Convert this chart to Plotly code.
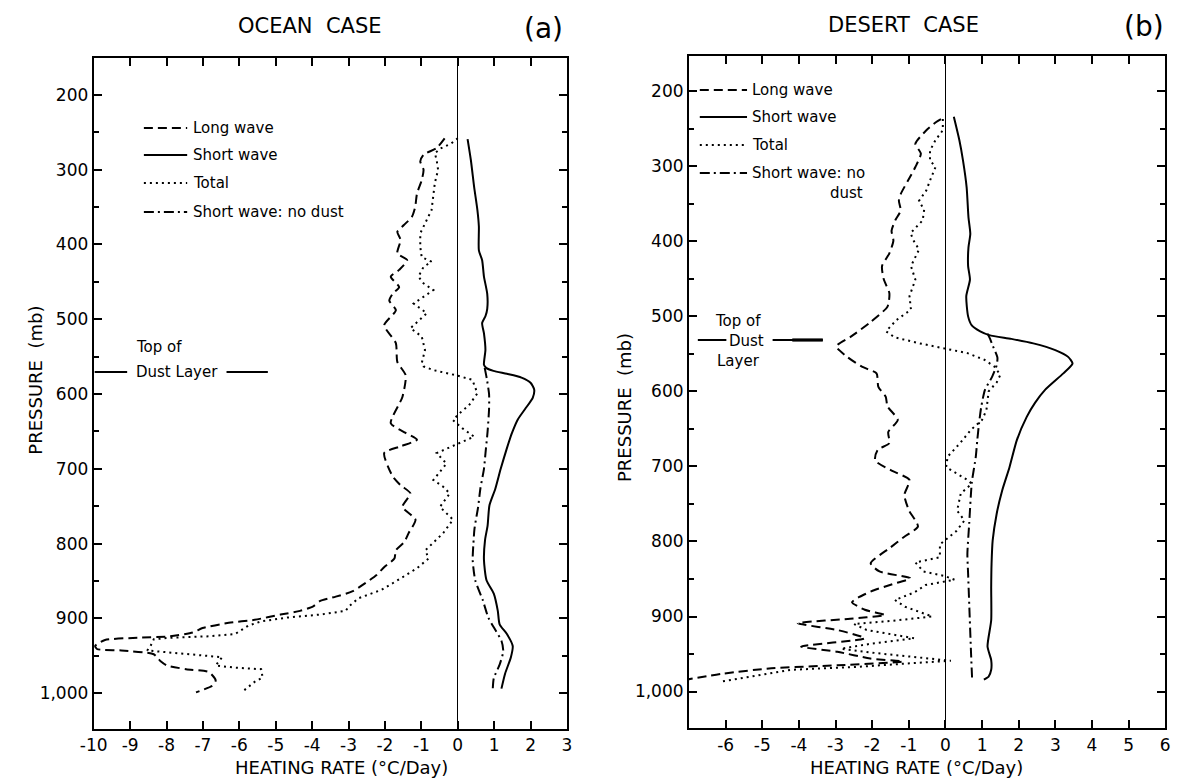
import plotly.graph_objects as go

# ---------------- DATA ----------------
# Panel (a) OCEAN CASE  (pressure in mb, heating rate in degC/day)
ocean_lw_p = [258, 271, 280, 289, 300, 314, 332, 350, 363, 374, 383, 394, 412, 421, 434, 443, 457, 466, 475, 488,
              508, 532, 557, 575, 604, 639, 652, 661, 670, 679, 710, 722, 733, 751, 768, 786, 798, 809, 820, 831,
              842, 853, 864, 871, 877, 884, 890, 895, 902, 906, 913, 919, 924, 926, 929, 937, 941, 943, 948, 957,
              963, 968, 972, 983, 990, 999]
ocean_lw_x = [-0.36, -0.58, -0.94, -1.03, -0.94, -0.99, -1.12, -1.17, -1.26, -1.48, -1.66, -1.57, -1.66, -1.39, -1.61,
              -1.84, -1.61, -1.79, -1.88, -1.70, -2.02, -1.70, -1.66, -1.43, -1.52, -1.84, -1.43, -1.12, -1.57, -2.02,
              -1.79, -1.57, -1.30, -1.52, -1.16, -1.35, -1.47, -1.70, -1.74, -2.01, -2.23, -2.54, -2.90, -3.35, -3.79,
              -3.97, -4.33, -4.87, -5.58, -6.29, -7.01, -7.28, -7.90, -8.79, -9.69, -9.96, -9.91, -9.24, -8.35, -8.17,
              -7.99, -7.46, -6.83, -6.65, -6.74, -7.19]

ocean_tot_p = [258, 265, 271, 278, 287, 300, 318, 336, 354, 372, 385, 403, 417, 423, 430, 443, 452, 461, 470, 479,
               492, 508, 512, 523, 541, 559, 563, 568, 575, 581, 599, 615, 626, 635, 646, 657, 666, 673, 679, 693,
               715, 724, 733, 751, 768, 786, 798, 809, 820, 833, 849, 862, 873, 884, 890, 895, 899, 904, 910, 921,
               924, 926, 928, 937, 943, 946, 950, 952, 963, 966, 968, 979, 985, 999]
ocean_tot_x = [0.0, -0.18, -0.45, -0.63, -0.58, -0.54, -0.63, -0.67, -0.72, -0.90, -1.03, -1.03, -0.99, -0.72, -0.94,
               -1.08, -0.94, -0.67, -0.94, -1.21, -0.85, -1.21, -1.30, -0.99, -0.90, -0.99, -0.94, -0.67, -0.04, 0.40,
               0.54, 0.31, 0.04, -0.13, 0.13, 0.45, 0.04, -0.31, -0.58, -0.31, -0.67, -0.40, -0.22, -0.49, -0.13,
               -0.40, -0.67, -0.89, -0.80, -1.12, -1.65, -2.10, -2.72, -2.99, -3.08, -3.79, -4.69, -5.40, -5.76, -6.12,
               -6.83, -7.90, -8.35, -8.44, -8.53, -7.90, -7.01, -6.47, -6.65, -6.12, -5.40, -5.36, -5.58, -5.94]

ocean_sw_p = [259, 287, 323, 354, 376, 408, 421, 443, 466, 486, 496, 505, 519, 541, 561, 565, 569, 573, 578, 585,
              594, 605, 620, 634, 652, 674, 700, 727, 749, 776, 795, 822, 849, 867, 890, 908, 921, 937, 952, 974, 994]
ocean_sw_x = [0.27, 0.36, 0.45, 0.54, 0.58, 0.58, 0.67, 0.72, 0.81, 0.81, 0.76, 0.67, 0.72, 0.76, 0.72, 0.78, 0.98,
              1.35, 1.75, 2.00, 2.10, 2.06, 1.85, 1.65, 1.49, 1.34, 1.18, 1.03, 0.87, 0.82, 0.75, 0.72, 0.79, 0.99,
              1.10, 1.15, 1.35, 1.51, 1.46, 1.30, 1.20]

ocean_swnd_p = [565, 580, 600, 620, 650, 680, 700, 727, 751, 780, 800, 822, 849, 876, 899, 917, 930, 944, 962, 980, 996]
ocean_swnd_x = [0.74, 0.80, 0.86, 0.86, 0.82, 0.76, 0.72, 0.62, 0.56, 0.46, 0.43, 0.41, 0.48, 0.69, 0.84, 1.05, 1.20,
                1.25, 1.15, 0.99, 0.96]

# Panel (b) DESERT CASE
desert_lw_p = [237, 241, 252, 270, 283, 301, 319, 337, 346, 359, 372, 386, 399, 416, 433, 451, 469, 487, 509, 527,
               540, 554, 567, 576, 594, 607, 620, 638, 654, 669, 678, 692, 705, 718, 738, 758, 780, 794, 808, 829,
               840, 849, 857, 865, 874, 881, 891, 898, 903, 909, 918, 929, 940, 947, 956, 960, 965, 969, 976, 984]
desert_lw_x = [-0.12, -0.25, -0.52, -0.82, -0.67, -0.82, -1.02, -1.22, -1.27, -1.22, -1.37, -1.47, -1.42, -1.53, -1.73,
               -1.68, -1.53, -1.58, -2.08, -2.58, -2.98, -2.68, -2.28, -1.88, -1.83, -1.63, -1.58, -1.30, -1.56, -1.53,
               -1.85, -1.92, -1.49, -0.98, -1.12, -1.00, -0.75, -1.13, -1.50, -2.04, -1.80, -0.96, -1.45, -1.95, -2.35,
               -2.55, -2.20, -1.65, -2.60, -4.03, -2.95, -2.20, -3.94, -2.95, -2.05, -1.16, -2.95, -4.75, -6.05, -7.05]

desert_tot_p = [237, 252, 265, 279, 292, 301, 319, 332, 346, 358, 372, 389, 398, 411, 433, 451, 473, 491, 505, 520,
                528, 536, 543, 549, 558, 567, 578, 588, 600, 625, 638, 651, 669, 687, 701, 718, 723, 736, 759, 772,
                786, 804, 821, 828, 840, 846, 851, 858, 868, 878, 887, 900, 906, 910, 918, 925, 929, 936, 943, 949,
                954, 959, 962, 967, 971, 980, 987]
desert_tot_x = [-0.07, -0.07, -0.27, -0.42, -0.42, -0.27, -0.42, -0.52, -0.72, -0.58, -0.62, -0.95, -0.88, -0.72, -0.94,
                -0.82, -0.98, -0.94, -1.34, -1.62, -1.38, -0.70, 0.00, 0.60, 1.07, 1.34, 1.50, 1.40, 1.18, 1.12, 1.00,
                0.70, 0.40, 0.06, 0.02, 0.60, 0.72, 0.42, 0.32, 0.52, 0.30, -0.15, -0.15, -0.82, -0.60, -0.02, 0.25,
                -0.54, -0.85, -1.38, -1.10, -0.36, -1.50, -2.50, -2.15, -1.35, -0.85, -2.00, -2.85, -1.85, -0.85, 0.15,
                -0.85, -2.35, -4.20, -5.30, -6.15]

desert_sw_p = [234, 265, 292, 328, 368, 390, 408, 433, 451, 473, 500, 512, 520, 525, 530, 536, 545, 554, 563, 576,
               598, 615, 634, 665, 701, 732, 763, 799, 830, 861, 905, 940, 958, 971, 980, 984]
desert_sw_x = [0.23, 0.38, 0.48, 0.58, 0.63, 0.68, 0.63, 0.62, 0.67, 0.57, 0.62, 0.72, 0.95, 1.20, 1.80, 2.40, 3.00,
               3.35, 3.47, 3.22, 2.72, 2.45, 2.22, 1.95, 1.75, 1.55, 1.40, 1.29, 1.26, 1.25, 1.25, 1.15, 1.25, 1.25,
               1.18, 1.05]

desert_swnd_p = [523, 530, 540, 555, 565, 580, 598, 620, 642, 665, 687, 722, 776, 817, 843, 883, 949, 984]
desert_swnd_x = [1.15, 1.22, 1.30, 1.42, 1.40, 1.28, 1.08, 0.98, 0.92, 0.87, 0.83, 0.72, 0.65, 0.60, 0.62, 0.65, 0.70,
                 0.73]

x_ticks_a = list(range(-10, 4))
x_ticks_b = list(range(-6, 7))
p_ticks = [200, 300, 400, 500, 600, 700, 800, 900, 1000]
p_ticktext = ["200", "300", "400", "500", "600", "700", "800", "900", "1,000"]
p_minor = [150, 250, 350, 450, 550, 650, 750, 850, 950, 1050]

legend_names = ["Long wave", "Short wave", "Total", "Short wave: no dust"]

# ---------------- STYLE ----------------
W, H = 1182, 779
FONT = "DejaVu Sans"
DASH = "9px,5px"
DOT = "2px,4px"
DASHDOT = "10px,4px,2px,4px"
LW = 2.0


def pxx(x):
    return x / W


def pxy(y):
    return 1 - y / H


fig = go.Figure()


def add_series(xv, pv, dash, xa, ya, name, shape="linear"):
    fig.add_trace(go.Scatter(x=xv, y=pv, mode="lines", name=name, showlegend=False,
                             line=dict(color="black", width=LW, dash=dash, shape=shape, smoothing=0.6),
                             xaxis=xa, yaxis=ya, hoverinfo="skip"))


add_series(ocean_swnd_x, ocean_swnd_p, DASHDOT, "x", "y", legend_names[3], "spline")
add_series(ocean_lw_x, ocean_lw_p, DASH, "x", "y", legend_names[0], "spline")
add_series(ocean_tot_x, ocean_tot_p, DOT, "x", "y", legend_names[2])
add_series(ocean_sw_x, ocean_sw_p, "solid", "x", "y", legend_names[1], "spline")

add_series(desert_swnd_x, desert_swnd_p, DASHDOT, "x2", "y2", legend_names[3], "spline")
add_series(desert_lw_x, desert_lw_p, DASH, "x2", "y2", legend_names[0], "spline")
add_series(desert_tot_x, desert_tot_p, DOT, "x2", "y2", legend_names[2])
add_series(desert_sw_x, desert_sw_p, "solid", "x2", "y2", legend_names[1], "spline")

axis_common = dict(showline=True, linecolor="black", linewidth=2, mirror="ticks", ticks="inside",
                   ticklen=8, tickwidth=1.5, tickcolor="black", showgrid=False,
                   tickfont=dict(family=FONT, size=17, color="black"), fixedrange=True)

fig.update_layout(
    width=W, height=H,
    margin=dict(l=0, r=0, t=0, b=0),
    paper_bgcolor="white", plot_bgcolor="white",
    font=dict(family=FONT, color="black"),
    xaxis=dict(axis_common, range=[-10, 3], domain=[pxx(81), pxx(562)], anchor="y",
               tickmode="array", tickvals=x_ticks_a, ticktext=[str(v) for v in x_ticks_a],
               zeroline=True, zerolinecolor="black", zerolinewidth=1.3),
    yaxis=dict(axis_common, range=[1048, 151], domain=[pxy(729), pxy(58.3)], anchor="x",
               tickmode="array", tickvals=p_ticks, ticktext=p_ticktext, zeroline=False,
               minor=dict(tickmode="array", tickvals=p_minor, ticks="inside", ticklen=5,
                          tickwidth=1.5, tickcolor="black", showgrid=False)),
    xaxis2=dict(axis_common, range=[-7, 6], domain=[pxx(686), pxx(1170)], anchor="y2",
                tickmode="array", tickvals=x_ticks_b, ticktext=[str(v) for v in x_ticks_b],
                zeroline=True, zerolinecolor="black", zerolinewidth=1.3),
    yaxis2=dict(axis_common, range=[1049, 153], domain=[pxy(728.3), pxy(56)], anchor="x2",
                tickmode="array", tickvals=p_ticks, ticktext=p_ticktext, zeroline=False,
                minor=dict(tickmode="array", tickvals=p_minor, ticks="inside", ticklen=5,
                           tickwidth=1.5, tickcolor="black", showgrid=False)),
)

annotations = []
shapes = []


def text(x, y, s, size, xanchor="center", angle=0):
    annotations.append(dict(x=pxx(x), y=pxy(y), xref="paper", yref="paper", text=s, showarrow=False,
                            xanchor=xanchor, yanchor="middle", textangle=angle,
                            font=dict(family=FONT, size=size, color="black")))


def seg(x0, y0, x1, y1, dash="solid", width=LW):
    shapes.append(dict(type="line", xref="paper", yref="paper", x0=pxx(x0), y0=pxy(y0), x1=pxx(x1), y1=pxy(y1),
                       line=dict(color="black", width=width, dash=dash)))


# titles
text(301, 26, "OCEAN\u00a0\u00a0CASE", 21)
text(538, 28, "(a)", 28)
text(904, 25, "DESERT\u00a0\u00a0CASE", 21)
text(1148, 27, "(b)", 28)

# axis titles
text(333, 767, "HEATING RATE (°C/Day)", 18)
text(917, 767, "HEATING RATE (°C/Day)", 18)
text(21, 380, "PRESSURE\u00a0\u00a0(mb)", 18, angle=-90)
text(620, 408, "PRESSURE\u00a0\u00a0(mb)", 18, angle=-90)

# legends
styles = [DASH, "solid", DOT, DASHDOT]
leg_a_y = [128, 155, 183, 212]
for nm, st, yy in zip(legend_names, styles, leg_a_y):
    seg(132, yy, 176, yy, st)
    text(180, yy, nm, 15, xanchor="left")

leg_b_y = [90, 117, 145, 173]
leg_b_names = ["Long wave", "Short wave", "Total", "Short wave: no"]
for nm, st, yy in zip(leg_b_names, styles, leg_b_y):
    seg(697, yy, 745, yy, st)
    text(748, yy, nm, 15, xanchor="left")
text(865, 193, "dust", 15, xanchor="right")

# dust layer labels
text(147, 347, "Top of", 15)
text(166, 372, "Dust Layer", 15)
seg(82, 372, 115, 372)
seg(216, 372, 258, 372)

text(736, 321, "Top of", 15)
text(744, 341, "Dust", 15)
text(736, 361, "Layer", 15)
seg(695, 340, 724, 340)
seg(771, 340, 822, 340)
seg(791, 340, 822, 340, width=3.2)

fig.update_layout(annotations=annotations, shapes=shapes)

fig.write_html("out.html")
